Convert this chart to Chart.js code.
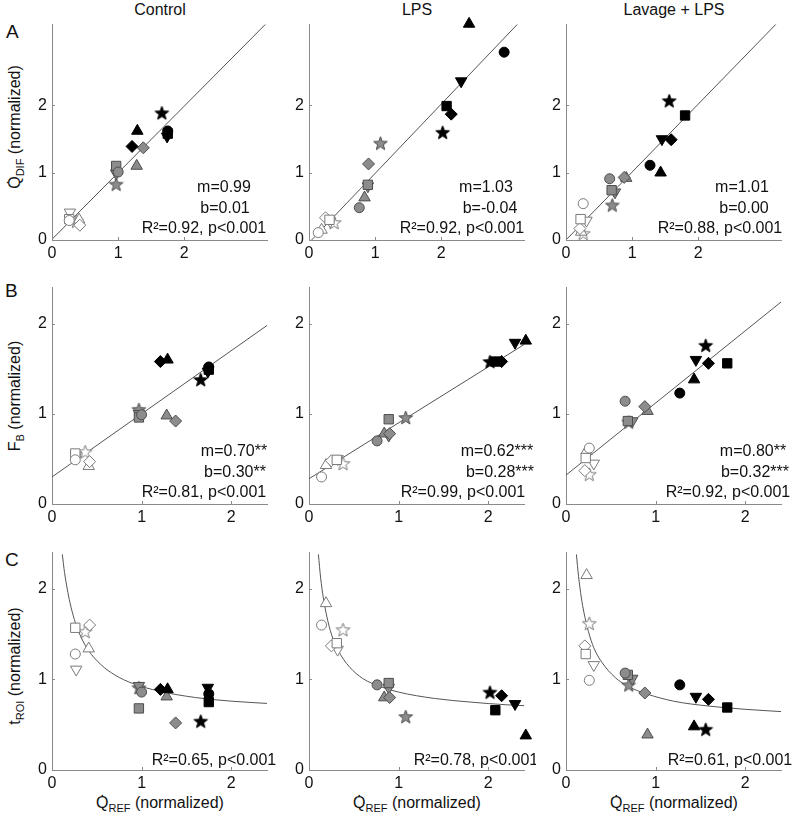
<!DOCTYPE html>
<html>
<head>
<meta charset="utf-8">
<script src="https://cdn.jsdelivr.net/npm/chart.js@4.4.0/dist/chart.umd.min.js"></script>
<style>
  body { margin:0; background:#fff; }
  #fig { position:relative; width:800px; height:821px; overflow:hidden; font-family:"Liberation Sans", Arial, sans-serif; color:#111; }
  #fig canvas { position:absolute; }
  .ttl { position:absolute; width:200px; text-align:center; font-size:16px; line-height:18px; white-space:nowrap; }
  .letter { position:absolute; font-size:19px; line-height:22px; }
  .ytitle { position:absolute; width:220px; height:18px; text-align:center; font-size:16px; line-height:18px; white-space:nowrap; transform:rotate(-90deg); }
  sub { font-size:11px; vertical-align:-4px; line-height:0; }
</style>
</head>
<body>
<div id="fig">
  <div class="ttl" style="left:60px;top:1px">Control</div>
  <div class="ttl" style="left:317px;top:1px">LPS</div>
  <div class="ttl" style="left:574px;top:1px">Lavage + LPS</div>
  <div class="letter" style="left:6px;top:21px">A</div>
  <div class="letter" style="left:5px;top:280px">B</div>
  <div class="letter" style="left:5px;top:549px">C</div>
  <div class="ytitle" style="left:-95px;top:118px">Q&#775;<sub>DIF</sub> (normalized)</div>
  <div class="ytitle" style="left:-95px;top:387px">F<sub>B</sub> (normalized)</div>
  <div class="ytitle" style="left:-95px;top:657px">t<sub>ROI</sub> (normalized)</div>
  <div class="ttl" style="left:60px;top:794px">Q&#775;<sub>REF</sub> (normalized)</div>
  <div class="ttl" style="left:317px;top:794px">Q&#775;<sub>REF</sub> (normalized)</div>
  <div class="ttl" style="left:574px;top:794px">Q&#775;<sub>REF</sub> (normalized)</div>
</div>
<script>
// every array: 3 rows (open = low flow, grey = mid flow, black = high flow)
// columns in each row: circle, square, diamond, up-triangle, down-triangle, star
const ctrlQref = [[0.26,0.26,0.42,0.41,0.27,0.37],[1.00,0.97,1.38,1.28,0.97,0.97],[1.75,1.75,1.21,1.29,1.74,1.66]];
const ctrlQdif = [[0.29,0.31,0.22,0.30,0.41,0.28],[1.01,1.10,1.37,1.10,0.99,0.83],[1.62,1.58,1.39,1.62,1.54,1.89]];
const ctrlFb   = [[0.49,0.56,0.47,0.42,0.54,0.58],[0.99,0.96,0.92,0.98,1.00,1.05],[1.52,1.49,1.58,1.60,1.47,1.38]];
const ctrlTroi = [[1.28,1.57,1.60,1.34,1.11,1.53],[0.86,0.68,0.52,0.81,0.93,0.91],[0.84,0.75,0.89,0.89,0.91,0.54]];

const lpsQref = [[0.14,0.31,0.25,0.19,0.32,0.38],[0.76,0.89,0.90,0.84,0.89,1.08],[2.95,2.08,2.15,2.42,2.30,2.02]];
const lpsQdif = [[0.11,0.30,0.33,0.15,0.28,0.26],[0.48,0.82,1.13,0.63,0.80,1.44],[2.79,1.99,1.87,3.21,2.36,1.60]];
const lpsFb   = [[0.30,0.49,0.48,0.43,0.50,0.45],[0.70,0.94,0.78,0.78,0.76,0.96],[null,1.58,1.58,1.81,1.79,1.58]];
const lpsTroi = [[1.60,1.40,1.37,1.84,1.33,1.55],[0.94,0.96,0.80,0.80,0.91,0.59],[null,0.66,0.82,0.38,0.73,0.86]];

const lavQref = [[0.26,0.22,0.21,0.23,0.31,0.26],[0.66,0.69,0.88,0.91,0.74,0.70],[1.27,1.80,1.59,1.43,1.45,1.56]];
const lavQdif = [[0.54,0.31,0.17,0.12,0.29,0.10],[0.91,0.74,0.93,0.92,0.71,0.52],[1.11,1.85,1.49,1.00,1.50,2.07]];
const lavFb   = [[0.62,0.51,0.37,0.59,0.45,0.33],[1.14,0.92,1.08,1.03,0.92,0.91],[1.23,1.56,1.56,1.38,1.60,1.76]];
const lavTroi = [[0.99,1.28,1.37,2.15,1.16,1.62],[1.07,1.05,0.85,0.39,1.01,0.94],[0.94,0.69,0.78,0.48,0.81,0.45]];

// fitted lines (slope, intercept as printed)
const slopeA = [0.99, 1.03, 1.01], interA = [0.01, -0.04, 0.00];
const slopeB = [0.70, 0.62, 0.80], interB = [0.30, 0.28, 0.32];

// fitted curves of row C
const ctrlCurveX = [0.115,0.14,0.17,0.2,0.25,0.3,0.4,0.55,0.7,0.9,1.2,1.6,2.0,2.4];
const ctrlCurveY = [2.38,2.18,2.00,1.85,1.66,1.52,1.33,1.16,1.05,0.955,0.87,0.80,0.76,0.735];
const lpsCurveX  = [0.105,0.13,0.16,0.2,0.25,0.32,0.45,0.6,0.8,1.0,1.4,1.8,2.2,2.4];
const lpsCurveY  = [2.38,2.12,1.90,1.69,1.50,1.33,1.14,1.01,0.92,0.86,0.79,0.75,0.72,0.71];
const lavCurveX  = [0.116,0.14,0.17,0.2,0.25,0.31,0.4,0.55,0.7,0.9,1.2,1.6,2.0,2.4];
const lavCurveY  = [2.38,2.14,1.91,1.74,1.53,1.35,1.19,1.02,0.92,0.84,0.76,0.705,0.67,0.645];

const statsA = [["m=0.99","b=0.01","R²=0.92, p<0.001"],["m=1.03","b=-0.04","R²=0.92, p<0.001"],["m=1.01","b=0.00","R²=0.88, p<0.001"]];
const statsB = [["m=0.70**","b=0.30**","R²=0.81, p<0.001"],["m=0.62***","b=0.28***","R²=0.99, p<0.001"],["m=0.80**","b=0.32***","R²=0.92, p<0.001"]];
const statsC = [["R²=0.65, p<0.001"],["R²=0.78, p<0.001"],["R²=0.61, p<0.001"]];

const TICKS = [0, 1, 2];

// ---- layout / style ----
const PLOT_LEFT = [52, 309, 566], PLOT_W = 215;
const ROW_TOP = [20, 283, 548], ROW_H = [220, 221, 222];
const ROW_MAX = [[3.25, 3.2], [2.4, 2.4], [2.4, 2.4]];
const NOTE_X = [
  [[172,173,152],[177,181,153],[176,178,154]],
  [[182,183,152],[188,191,154],[187,189,162]],
  [[162],[167],[164]]
];
const NOTE_Y = [[-48,-27,-7],[-48,-27,-7],[-5]];
const FONT = "Liberation Sans";
const AXIS = "#8a8a8a", INK = "#111";
const FILL = ["#ffffff", "#8c8c8c", "#000000"];
const EDGE = ["#7a7a7a", "#4d4d4d", "#000000"];

function starImg(fill, edge) {
  const c = document.createElement("canvas");
  c.width = 17; c.height = 17;
  const g = c.getContext("2d");
  g.beginPath();
  for (let i = 0; i < 10; i++) {
    const r = i % 2 ? 3.0 : 7.2;
    const a = -Math.PI / 2 + i * Math.PI / 5;
    g.lineTo(8.5 + r * Math.cos(a), 9.2 + r * Math.sin(a));
  }
  g.closePath();
  g.fillStyle = fill; g.fill();
  g.strokeStyle = edge; g.lineWidth = 1; g.stroke();
  return c;
}
const STARS = FILL.map((f, i) => starImg(f, EDGE[i]));

const MARKERS = [
  { style: "circle",   radius: 5,   rot: 0 },
  { style: "rect",     radius: 6.6, rot: 0 },
  { style: "rectRot",  radius: 6,   rot: 0 },
  { style: "triangle", radius: 6.6, rot: 0 },
  { style: "triangle", radius: 6.6, rot: 180 },
  { style: STARS,      radius: 7,   rot: 0 },
];

const inwardTicks = {
  id: "inwardTicks",
  afterDatasetsDraw(chart) {
    const { ctx, chartArea: a, scales } = chart;
    ctx.save();
    ctx.strokeStyle = AXIS; ctx.lineWidth = 1;
    ctx.beginPath();
    TICKS.forEach(v => {
      const px = Math.round(scales.x.getPixelForValue(v)) + 0.5;
      ctx.moveTo(px, a.bottom); ctx.lineTo(px, a.bottom - 3);
      const py = Math.round(scales.y.getPixelForValue(v)) + 0.5;
      ctx.moveTo(a.left, py); ctx.lineTo(a.left + 3, py);
    });
    ctx.stroke();
    ctx.restore();
  }
};

function notesPlugin(lines, xs, ys) {
  return {
    id: "notes",
    afterDraw(chart) {
      const { ctx, chartArea: a } = chart;
      ctx.save();
      ctx.font = "16px '" + FONT + "'";
      ctx.fillStyle = INK;
      ctx.textAlign = "center";
      ctx.textBaseline = "alphabetic";
      lines.forEach((t, i) => ctx.fillText(t, a.left + xs[i], a.bottom + ys[i]));
      ctx.restore();
    }
  };
}

function makePanel(row, col, xs, ys, fitData, notes) {
  const [xMax, yMax] = ROW_MAX[row];
  const padL = 45, padT = 10, padR = 12, padB = 26;
  const cv = document.createElement("canvas");
  cv.width = PLOT_W + padL + padR;
  cv.height = ROW_H[row] + padT + padB;
  cv.style.left = (PLOT_LEFT[col] - padL) + "px";
  cv.style.top = (ROW_TOP[row] - padT) + "px";
  document.getElementById("fig").appendChild(cv);

  const datasets = MARKERS.map((m, s) => ({
    type: "scatter",
    data: [0, 1, 2].map(l => ({ x: xs[l][s], y: ys[l][s] })),
    pointStyle: m.style,
    pointRadius: m.radius,
    pointRotation: m.rot,
    pointBackgroundColor: FILL,
    pointBorderColor: EDGE,
    pointBorderWidth: 1,
    showLine: false,
    clip: false
  }));
  datasets.push({
    type: "line",
    data: fitData,
    borderColor: "#555",
    borderWidth: 1,
    pointRadius: 0,
    fill: false,
    cubicInterpolationMode: "monotone"
  });

  const tickFont = { family: FONT, size: 16 };
  const axis = (max, isX) => ({
    type: "linear",
    min: 0, max: max,
    grid: { display: false, drawTicks: false },
    border: { display: true, color: AXIS, width: 1 },
    ticks: { color: INK, font: tickFont, padding: isX ? 4 : 5, autoSkip: false },
    afterBuildTicks: s => { s.ticks = TICKS.map(v => ({ value: v })); },
    afterFit: s => { if (isX) s.height = padB; else s.width = padL; }
  });

  new Chart(cv, {
    data: { datasets },
    options: {
      responsive: false,
      animation: false,
      layout: { padding: { left: 0, top: padT, right: padR, bottom: 0 } },
      plugins: { legend: { display: false }, tooltip: { enabled: false } },
      scales: { x: axis(xMax, true), y: axis(yMax, false) }
    },
    plugins: [inwardTicks, notesPlugin(notes, NOTE_X[row][col], NOTE_Y[row])]
  });
}

const columns = [
  { qref: ctrlQref, qdif: ctrlQdif, fb: ctrlFb, troi: ctrlTroi, cx: ctrlCurveX, cy: ctrlCurveY },
  { qref: lpsQref,  qdif: lpsQdif,  fb: lpsFb,  troi: lpsTroi,  cx: lpsCurveX,  cy: lpsCurveY },
  { qref: lavQref,  qdif: lavQdif,  fb: lavFb,  troi: lavTroi,  cx: lavCurveX,  cy: lavCurveY },
];

const fitLine = (m, b, x1) => [{ x: 0, y: b }, { x: x1, y: b + m * x1 }];

columns.forEach((c, col) => {
  makePanel(0, col, c.qref, c.qdif, fitLine(slopeA[col], interA[col], ROW_MAX[0][0]), statsA[col]);
  makePanel(1, col, c.qref, c.fb, fitLine(slopeB[col], interB[col], ROW_MAX[1][0]), statsB[col]);
  makePanel(2, col, c.qref, c.troi, c.cx.map((x, i) => ({ x, y: c.cy[i] })), statsC[col]);
});
</script>
</body>
</html>
